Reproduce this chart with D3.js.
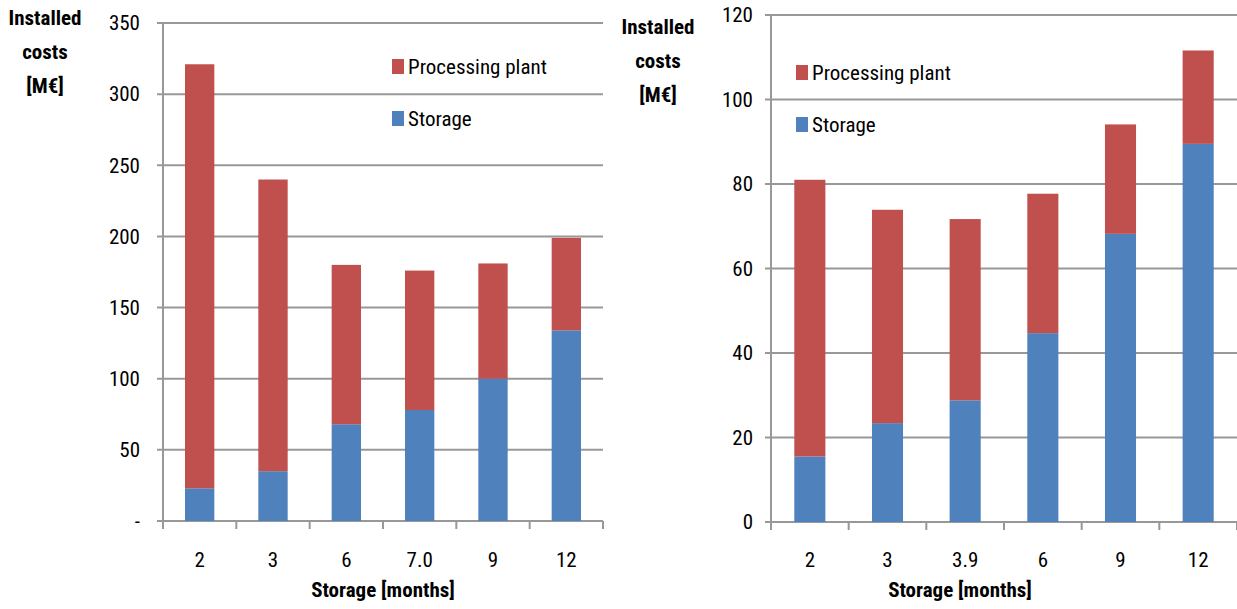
<!DOCTYPE html>
<html>
<head>
<meta charset="utf-8">
<script src="https://cdn.jsdelivr.net/npm/d3@7"></script>
<style>
  body { margin: 0; background: #fff; }
  svg text { font-family: "Liberation Sans Narrow", "Roboto Condensed", "Liberation Sans", sans-serif; fill: #000; }
</style>
</head>
<body>
<svg id="chart" width="1237" height="609"></svg>
<script>
// left chart
const leftMonths = ['2', '3', '6', '7.0', '9', '12'];
const leftStorage = [23, 35, 68, 78, 100, 134];
const leftPlant = [298, 205, 112, 98, 81, 65];
const leftTicks = [0, 50, 100, 150, 200, 250, 300, 350];

// right chart
const rightMonths = ['2', '3', '3.9', '6', '9', '12'];
const rightStorage = [15.5, 23.4, 28.8, 44.7, 68.2, 89.5];
const rightPlant = [65.5, 50.5, 42.9, 33.0, 25.9, 22.1];
const rightTicks = [0, 20, 40, 60, 80, 100, 120];

const seriesNames = ['Processing plant', 'Storage'];
const red = '#C0504D';
const blue = '#4F81BD';
const grid = '#989898';

const svg = d3.select('#chart');

function buildPanel(opt) {
    const rows = opt.months.map((m, i) => ({ month: m, storage: opt.storage[i], plant: opt.plant[i] }));

    const x = d3.scaleBand()
        .domain(opt.months)
        .range([opt.left, opt.right])
        .paddingInner(0.6)
        .paddingOuter(0.3);

    const y = d3.scaleLinear()
        .domain([0, opt.max])
        .range([opt.bottom, opt.top]);

    const g = svg.append('g');

    // gridlines
    g.selectAll('.grid')
        .data(opt.ticks)
        .enter()
        .append('line')
            .attr('x1', opt.left - 6)
            .attr('x2', opt.right)
            .attr('y1', d => y(d))
            .attr('y2', d => y(d))
            .attr('stroke', grid)
            .attr('stroke-width', 2);

    // y axis line
    g.append('line')
        .attr('x1', opt.left).attr('x2', opt.left)
        .attr('y1', opt.top).attr('y2', opt.bottom)
        .attr('stroke', grid).attr('stroke-width', 2);

    // category ticks below the axis
    const step = x.step();
    g.selectAll('.xtick')
        .data(d3.range(opt.months.length + 1))
        .enter()
        .append('line')
            .attr('x1', i => opt.left + i * (opt.right - opt.left) / opt.months.length)
            .attr('x2', i => opt.left + i * (opt.right - opt.left) / opt.months.length)
            .attr('y1', opt.bottom)
            .attr('y2', opt.bottom + 8)
            .attr('stroke', grid).attr('stroke-width', 2);

    const stack = d3.stack().keys(['storage', 'plant'])(rows);
    const colors = { storage: blue, plant: red };

    g.selectAll('.layer')
        .data(stack)
        .enter()
        .append('g')
            .attr('fill', d => colors[d.key])
        .selectAll('rect')
        .data(d => d)
        .enter()
        .append('rect')
            .attr('x', d => x(d.data.month))
            .attr('width', x.bandwidth())
            .attr('y', d => y(d[1]))
            .attr('height', d => y(d[0]) - y(d[1]));

    // y tick labels
    g.selectAll('.ylab')
        .data(opt.ticks)
        .enter()
        .append('text')
            .attr('x', opt.labelX)
            .attr('y', d => y(d))
            .attr('dy', '0.35em')
            .attr('text-anchor', 'end')
            .style('font-size', '21px')
            .text(d => (d === 0 && opt.dash) ? '-' : d);

    // x tick labels
    g.selectAll('.xlab')
        .data(opt.months)
        .enter()
        .append('text')
            .attr('x', d => x(d) + x.bandwidth() / 2)
            .attr('y', 567)
            .attr('text-anchor', 'middle')
            .style('font-size', '21px')
            .text(d => d);

    // x title
    g.append('text')
        .attr('x', opt.xTitleX)
        .attr('y', 597)
        .attr('text-anchor', 'middle')
        .style('font-size', '21px')
        .style('font-weight', 'bold')
        .text('Storage [months]');

    // y title
    const t = g.append('text')
        .attr('text-anchor', 'middle')
        .style('font-size', '21px')
        .style('font-weight', 'bold');
    ['Installed', 'costs', '[M\u20ac]'].forEach((s, i) => {
        t.append('tspan')
            .attr('x', opt.yTitleX)
            .attr('y', opt.yTitleY + i * 34)
            .text(s);
    });

    // legend
    const lg = g.selectAll('.legend')
        .data(seriesNames)
        .enter()
        .append('g')
            .attr('transform', (d, i) => 'translate(' + opt.legendX + ',' + (opt.legendY + i * 52) + ')');
    lg.append('rect')
        .attr('x', 0).attr('y', -8)
        .attr('width', 12).attr('height', 15)
        .attr('fill', d => d === 'Storage' ? blue : red);
    lg.append('text')
        .attr('x', 16)
        .attr('y', 0)
        .attr('dy', '0.35em')
        .style('font-size', '21px')
        .text(d => d);
}

buildPanel({
    months: leftMonths, storage: leftStorage, plant: leftPlant, ticks: leftTicks,
    max: 350, left: 163, right: 603, top: 23, bottom: 521,
    labelX: 140, dash: true, xTitleX: 383,
    yTitleX: 45, yTitleY: 25,
    legendX: 392, legendY: 67
});

buildPanel({
    months: rightMonths, storage: rightStorage, plant: rightPlant, ticks: rightTicks,
    max: 120, left: 771, right: 1237, top: 15, bottom: 522,
    labelX: 753, dash: false, xTitleX: 960,
    yTitleX: 658, yTitleY: 34,
    legendX: 796, legendY: 73
});
</script>
</body>
</html>
